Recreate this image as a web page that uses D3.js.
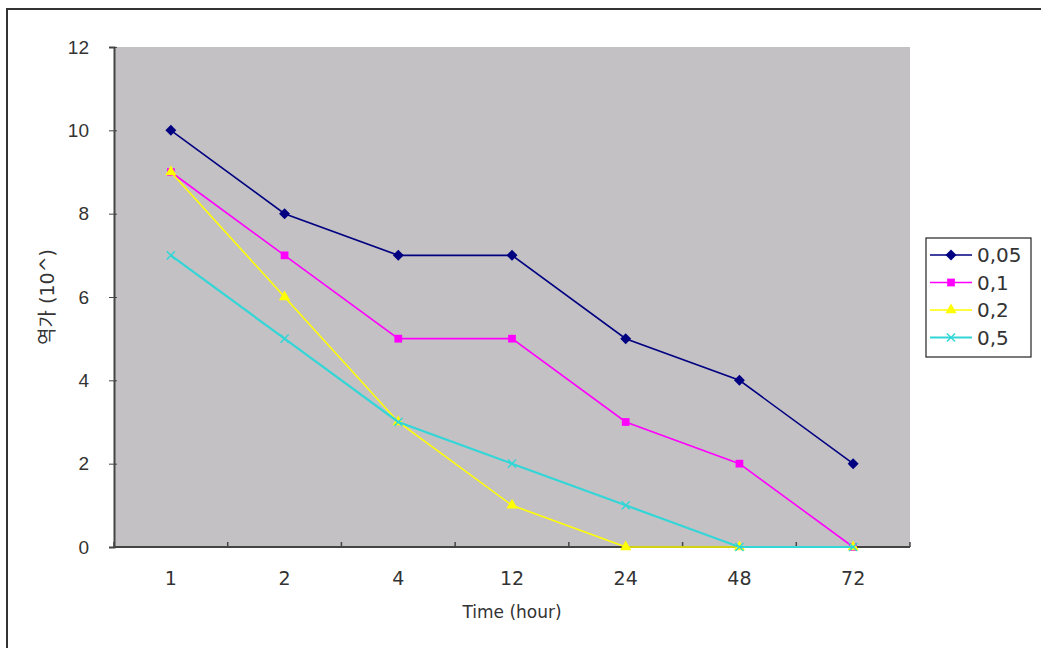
<!DOCTYPE html>
<html>
<head>
<meta charset="utf-8">
<script src="https://cdn.jsdelivr.net/npm/d3@7"></script>
<style>
  body { margin: 0; background: #fff; }
  svg { display: block; font-family: "DejaVu Sans", "Noto Sans CJK KR", sans-serif; }
</style>
</head>
<body>
<svg id="chart" width="1041" height="648"></svg>
<script>
// categories and values
const hours = ["1", "2", "4", "12", "24", "48", "72"];
const yTicks = [0, 2, 4, 6, 8, 10, 12];
const seriesNames = ["0,05", "0,1", "0,2", "0,5"];
const s005 = [10, 8, 7, 7, 5, 4, 2];
const s01 = [9, 7, 5, 5, 3, 2, 0];
const s02 = [9, 6, 3, 1, 0, 0, 0];
const s05 = [7, 5, 3, 2, 1, 0, 0];

const width = 1041, height = 648;
const margin = { top: 47, right: 131, bottom: 101, left: 114 };

const svg = d3.select("#chart");

// outer chart frame (only top and left edges are visible)
svg.append("path")
    .attr("d", `M7,${height} L7,9 L${width},9`)
    .attr("fill", "none").attr("stroke", "#333").attr("stroke-width", 2);

const x = d3.scaleBand().domain(hours).range([margin.left, width - margin.right]);
const y = d3.scaleLinear().domain([0, 12]).range([height - margin.bottom, margin.top]);

// plot area
svg.append("rect")
    .attr("x", margin.left).attr("y", margin.top)
    .attr("width", width - margin.left - margin.right)
    .attr("height", height - margin.top - margin.bottom)
    .attr("fill", "#c4c1c5");

// y axis
const yAxis = svg.append("g")
    .attr("transform", `translate(${margin.left},0)`)
    .call(d3.axisLeft(y).tickValues(yTicks).tickSize(5).tickPadding(20));
yAxis.select(".domain").attr("stroke", "#444").attr("stroke-width", 2);
yAxis.selectAll(".tick line").attr("stroke", "#444").attr("x2", -5).attr("x1", 3);
yAxis.selectAll(".tick text").style("font-size", "19px").attr("fill", "#333");

// x axis: ticks sit on the category boundaries, pointing inward
const xAxisG = svg.append("g").attr("transform", `translate(0,${height - margin.bottom})`);
xAxisG.append("line")
    .attr("x1", margin.left).attr("x2", width - margin.right)
    .attr("stroke", "#444").attr("stroke-width", 2);
const bounds = hours.map(h => x(h) + x.bandwidth()).concat([x(hours[0])]);
xAxisG.selectAll(".xtick").data(bounds).enter().append("line")
    .attr("x1", d => d).attr("x2", d => d)
    .attr("y1", 0).attr("y2", -5)
    .attr("stroke", "#444").attr("stroke-width", 1.5);
xAxisG.selectAll(".xlabel").data(hours).enter().append("text")
    .attr("x", d => x(d) + x.bandwidth() / 2)
    .attr("y", 38)
    .attr("text-anchor", "middle")
    .style("font-size", "19px").attr("fill", "#333")
    .text(d => d);

// axis titles
svg.append("text")
    .attr("x", (margin.left + width - margin.right) / 2)
    .attr("y", 618)
    .attr("text-anchor", "middle")
    .style("font-size", "17px").attr("fill", "#333")
    .text("Time (hour)");

svg.append("text")
    .attr("transform", `translate(54,${(margin.top + height - margin.bottom) / 2}) rotate(-90)`)
    .attr("text-anchor", "middle")
    .style("font-size", "19px").attr("fill", "#333")
    .text("역가 (10^)");

// series
const series = [
    { name: seriesNames[0], values: s005, color: "#000080", marker: d3.symbolSquare, rot: 45, size: 60, lw: 1.6 },
    { name: seriesNames[1], values: s01, color: "#ff00ff", marker: d3.symbolSquare, rot: 0, size: 60, lw: 1.6 },
    { name: seriesNames[2], values: s02, color: "#ffff00", marker: d3.symbolTriangle, rot: 0, size: 55, lw: 1.6 },
    { name: seriesNames[3], values: s05, color: "#33d6d6", marker: d3.symbolX, rot: 0, size: 45, lw: 2.2 }
];

const line = d3.line()
    .x((d, i) => x(hours[i]) + x.bandwidth() / 2)
    .y(d => y(d));

function drawMarker(sel, s) {
    sel.attr("d", d3.symbol().type(s.marker).size(s.size))
        .attr("fill", s.marker === d3.symbolX ? "none" : s.color)
        .attr("stroke", s.color)
        .attr("stroke-width", s.marker === d3.symbolX ? 1.5 : 0);
}

series.forEach(s => {
    svg.append("path")
        .attr("d", line(s.values))
        .attr("fill", "none")
        .attr("stroke", s.color)
        .attr("stroke-width", s.lw);
    svg.selectAll(null).data(s.values).enter().append("path")
        .attr("transform", (d, i) => `translate(${x(hours[i]) + x.bandwidth() / 2},${y(d)}) rotate(${s.rot})`)
        .call(drawMarker, s);
});

// legend
const legend = svg.append("g").attr("transform", "translate(926,238)");
legend.append("rect")
    .attr("width", 105).attr("height", 119)
    .attr("fill", "#fff").attr("stroke", "#222").attr("stroke-width", 1.2);
series.forEach((s, i) => {
    const ly = 17 + i * 27.5;
    legend.append("line")
        .attr("x1", 4).attr("x2", 46).attr("y1", ly).attr("y2", ly)
        .attr("stroke", s.color).attr("stroke-width", s.lw);
    legend.append("path")
        .attr("transform", `translate(25,${ly}) rotate(${s.rot})`)
        .call(drawMarker, s);
    legend.append("text")
        .attr("x", 51).attr("y", ly + 7)
        .style("font-size", "20px").attr("fill", "#333")
        .text(s.name);
});
</script>
</body>
</html>
